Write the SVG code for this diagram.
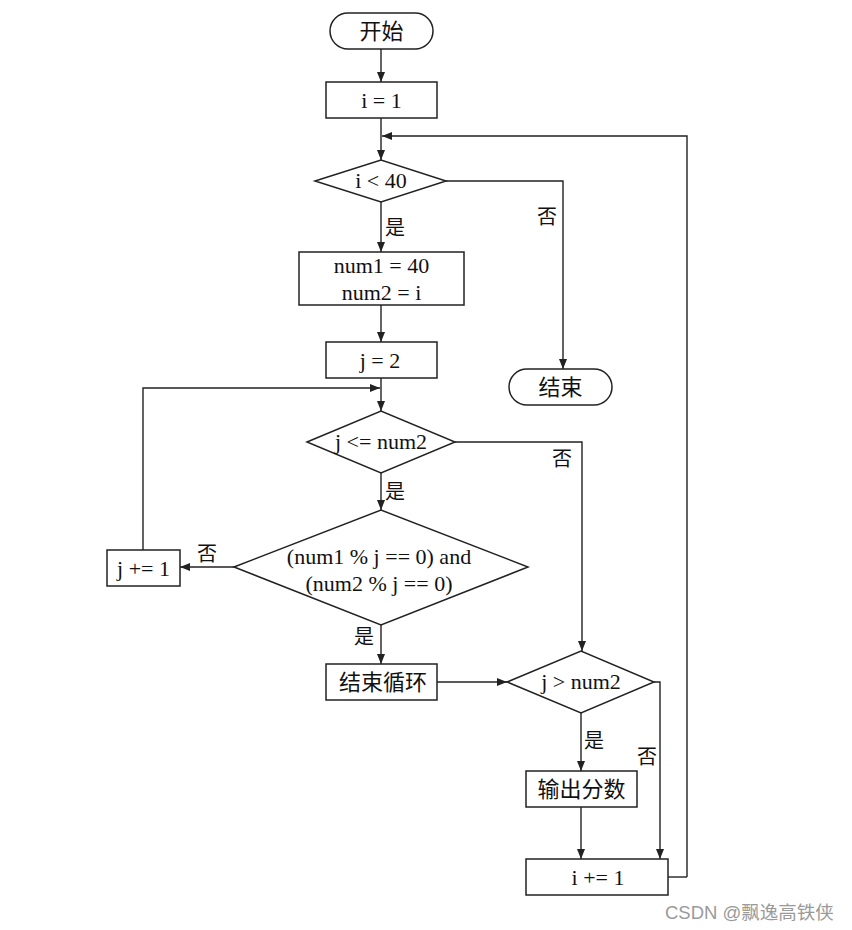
<svg xmlns="http://www.w3.org/2000/svg" width="852" height="930" viewBox="0 0 852 930">
<style>
.s{fill:#fff;stroke:#222;stroke-width:1.5}
.c{fill:none;stroke:#222;stroke-width:1.4}
.t{font-family:"Liberation Serif","Noto Sans CJK SC",serif;font-size:22px;fill:#111;text-anchor:middle}
.z{font-family:"Liberation Serif","Noto Sans CJK SC",serif;font-size:22px;fill:#111;text-anchor:middle}
.l{font-family:"Liberation Serif","Noto Sans CJK SC",serif;font-size:20px;fill:#111}
.w{font-family:"Liberation Sans","Noto Sans CJK SC",sans-serif;font-size:18.5px;fill:#9a9a9a}
</style>
<defs>
<marker id="a" viewBox="0 0 10 8" refX="10" refY="4" markerWidth="10" markerHeight="8" markerUnits="userSpaceOnUse" orient="auto">
<path d="M0,0 L10,4 L0,8 Z" fill="#222"/>
</marker>
</defs>
<rect width="852" height="930" fill="#fff"/>
<g id="connectors">
<path class="c" d="M381,49 V82" marker-end="url(#a)"/>
<path class="c" d="M381,118 V160" marker-end="url(#a)"/>
<path class="c" d="M687,877 V136 H382" marker-end="url(#a)"/>
<path class="c" d="M446,181 H563 V369" marker-end="url(#a)"/>
<path class="c" d="M381,202 V252" marker-end="url(#a)"/>
<path class="c" d="M381,305 V342" marker-end="url(#a)"/>
<path class="c" d="M381,378 V411" marker-end="url(#a)"/>
<path class="c" d="M143,550 V388 H380" marker-end="url(#a)"/>
<path class="c" d="M455,442 H582 V651" marker-end="url(#a)"/>
<path class="c" d="M381,473 V510" marker-end="url(#a)"/>
<path class="c" d="M234,567 H180" marker-end="url(#a)"/>
<path class="c" d="M381,625 V664" marker-end="url(#a)"/>
<path class="c" d="M437,682 H507" marker-end="url(#a)"/>
<path class="c" d="M581,713 V771" marker-end="url(#a)"/>
<path class="c" d="M654,682 H660 V859" marker-end="url(#a)"/>
<path class="c" d="M581,807 V859" marker-end="url(#a)"/>
<path class="c" d="M668,877 H687"/>
<text class="l" x="537" y="224">否</text>
<text class="l" x="385" y="235">是</text>
<text class="l" x="552" y="466">否</text>
<text class="l" x="385" y="499">是</text>
<text class="l" x="197" y="561">否</text>
<text class="l" x="354" y="644">是</text>
<text class="l" x="584" y="748">是</text>
<text class="l" x="637" y="764">否</text>
</g>
<g id="start"><rect class="s" x="330" y="13" width="103" height="36" rx="18"/><text class="z" x="381.5" y="39">开始</text></g>
<g id="init-i"><rect class="s" x="326" y="82" width="111" height="36"/><text class="t" x="381.5" y="108">i = 1</text></g>
<g id="cond-i"><polygon class="s" points="315,181 381,160 446,181 381,202"/><text class="t" x="381" y="188">i &lt; 40</text></g>
<g id="end"><rect class="s" x="509" y="369" width="103" height="36" rx="18"/><text class="z" x="560.5" y="395">结束</text></g>
<g id="nums"><rect class="s" x="299" y="252" width="165" height="53"/><text class="t" x="381.5" y="273">num1 = 40</text><text class="t" x="381.5" y="300">num2 = i</text></g>
<g id="init-j"><rect class="s" x="326" y="342" width="111" height="36"/><text class="t" x="380" y="368">j = 2</text></g>
<g id="cond-j"><polygon class="s" points="307,442 381,411 455,442 381,473"/><text class="t" x="381" y="449">j &lt;= num2</text></g>
<g id="cond-div"><polygon class="s" points="234,567 381,510 528,567 381,625"/><text class="t" x="379" y="564">(num1 % j == 0) and</text><text class="t" x="379" y="591">(num2 % j == 0)</text></g>
<g id="inc-j"><rect class="s" x="107" y="550" width="73" height="36"/><text class="t" x="143.5" y="576">j += 1</text></g>
<g id="break"><rect class="s" x="326" y="664" width="111" height="36"/><text class="z" x="383" y="690">结束循环</text></g>
<g id="cond-jn"><polygon class="s" points="507,682 581,651 654,682 581,713"/><text class="t" x="581" y="689">j &gt; num2</text></g>
<g id="output"><rect class="s" x="526" y="771" width="111" height="36"/><text class="z" x="581.5" y="797">输出分数</text></g>
<g id="inc-i"><rect class="s" x="526" y="859" width="142" height="36"/><text class="t" x="598" y="885">i += 1</text></g>
<text class="w" x="665" y="919">CSDN @飘逸高铁侠</text>
</svg>
